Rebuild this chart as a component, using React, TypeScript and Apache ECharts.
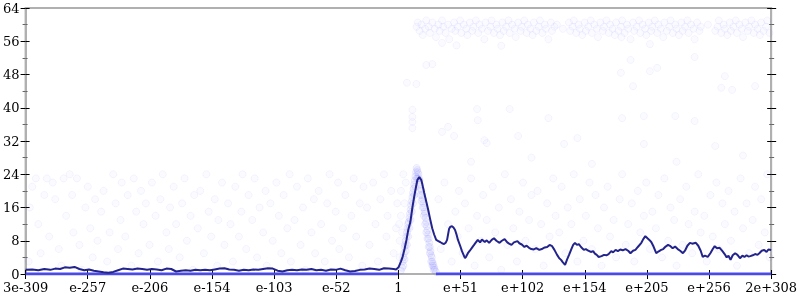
import React, { useEffect, useRef } from "react";
import * as echarts from "echarts";

const xTickLabels = ["3e-309", "e-257", "e-206", "e-154", "e-103", "e-52", "1", "e+51", "e+102", "e+154", "e+205", "e+256", "2e+308"];
const X_MIN = -308.5;
const X_MAX = 308.3;
const X_STEP = 51.4;

// running average line [decimal exponent, value]
const averageLine: number[][] = [
  [-308.5,1.0],[-303,1.1],[-298,0.9],[-293,1.2],[-288,1.0],[-284,1.3],[-280,1.2],[-276,1.6],[-272,1.5],[-268,1.7],[-264,1.2],[-260,0.9],[-256,1.1],[-252,0.8],[-248,0.6],[-244,0.4],[-240,0.3],[-236,0.5],[-232,0.9],[-228,1.3],[-224,1.2],[-220,1.1],[-216,1.3],[-212,1.2],[-208,1.0],[-204,1.2],[-200,1.1],[-196,0.9],[-192,1.3],[-188,1.2],[-184,0.6],[-180,0.8],[-176,0.9],[-172,0.8],[-168,1.0],[-164,0.9],[-160,1.0],[-156,0.9],[-152,1.1],[-148,1.3],[-144,1.4],[-140,1.1],[-136,1.0],[-132,0.8],[-128,1.0],[-124,0.9],[-120,1.1],[-116,1.0],[-112,1.2],[-108,1.4],[-104,1.3],[-100,0.8],[-96,0.6],[-92,0.9],[-88,1.0],[-84,0.9],[-80,1.1],[-76,1.0],[-72,1.2],[-68,0.9],[-64,1.0],[-60,0.8],[-56,1.1],[-52,1.0],[-48,1.3],[-44,0.9],[-40,0.6],[-36,0.7],[-32,1.0],[-28,1.1],[-24,1.3],[-20,1.2],[-16,1.0],[-12,1.4],[-8,1.3],[-4,1.2],[-2,1.1],[0,1.6],
  [2,3],[3.3,4],[5,6],[6.6,8.2],[8,10.5],[9.8,12.5],[11.5,16],[13.1,18.8],[14.5,21],[15.6,22.6],[17.2,23.3],[18.9,22.6],[20,21.2],[21.3,19.5],[23,17.4],[24.6,15.4],[26.2,13.2],[27.9,11],[29.5,9.5],[31.2,8.2],[33,7.9],[34.4,7.7],[36,7.4],[37.7,7.2],[39,7.5],[40.2,8.2],[41.8,10.8],[43,11.4],[44.3,11.5],[45.5,11.2],[46.8,10.6],[48,9.5],[49.2,8.2],[51,6.8],[52.5,5.5],[54,4.5],[55,3.8],[56,4.2],[57.4,5],[59,5.6],[60.7,6.3],[62.5,7],[64,7.6],[65.6,8.2],[67.5,7.6],[69,8.3],[71.4,7.7],[73,8.1],[75,7.5],[77.1,8.2],[79,8.6],[81,8.0],[83.6,7.5],[85.5,8.0],[87.8,8.4],[90,7.6],[91.5,7.3],[93.5,7.0],[95.5,7.6],[98.4,7.9],[100,7.4],[102,7.1],[104.2,6.5],[106,6.8],[108,6.3],[109.9,6.0],[112,5.9],[114,6.2],[116.5,5.8],[118.5,6.0],[121,6.4],[123,6.5],[125,7.0],[127.1,6.7],[129,5.8],[131.2,4.6],[133,3.8],[134.5,3.4],[136,2.8],[137.8,2.2],[139.5,3.5],[141.1,4.6],[143,6.0],[144.5,7.0],[146,7.5],[147.6,7.0],[149.2,7.2],[151,6.5],[153.3,5.8],[155,6.0],[157,5.6],[159.1,5.3],[161,5.5],[162.5,4.9],[164,4.6],[165.6,4.1],[168,4.3],[170,4.6],[172,4.5],[173.8,4.8],[176,5.5],[177.5,5.2],[179.6,5.8],[181.5,5.5],[183.5,5.9],[185.5,5.7],[187.8,6.0],[190,5.6],[191.9,5.0],[194,5.6],[196,5.8],[198,6.5],[200.9,7.5],[202.5,8.4],[204.2,9.1],[206,8.6],[207.5,8.2],[209.1,7.7],[211,6.6],[213.2,5.0],[215,5.4],[217.3,5.8],[219,6.0],[221,6.6],[223,7.0],[225,6.7],[226.8,6.2],[228.8,6.6],[231,6.0],[233,5.6],[235.3,5.0],[237,5.6],[239,6.8],[241.1,7.5],[243,7.3],[246,7.5],[248,6.8],[250,5.6],[251.7,4.1],[253.5,4.4],[255.8,4.1],[258,5.0],[260,6.0],[261.6,6.7],[263.5,6.2],[265.7,6.3],[268,5.5],[269.8,4.8],[271.5,4.0],[273,4.4],[274.7,3.4],[276.5,4.5],[278.5,5.0],[280.4,4.6],[282.5,3.8],[284.5,4.4],[286.2,4.1],[288,4.5],[289.5,4.2],[291.1,4.3],[293,4.5],[295,4.8],[297,4.6],[298.5,5.0],[300.5,5.6],[302.6,5.8],[304.5,5.3],[306,5.9],[308.3,5.8]
];

// exponent ranges where the count sits at zero
const zeroRuns: number[][] = [[-308.5, -0.5], [31, 308.3]];

const leftScatter: number[][] = [
  [-306,3],[-303,21],[-300,23],[-298,12],[-296,5],[-293,19],[-291,23],[-289,9],[-305,16],
  [-286,22],[-284,18],[-281,6],[-279,2],[-277,23],[-275,14],[-272,24],[-270,19],[-269,10],
  [-266,23],[-264,7],[-262,1],[-259,16],[-257,21],[-255,11],[-253,4],[-251,18],[-249,8],
  [-246,15],[-244,20],[-241,3],[-239,10],[-236,24],[-234,17],[-232,6],[-230,13],[-229,22],
  [-226,9],[-224,19],[-221,2],[-219,23],[-217,15],[-215,5],[-213,20],[-211,12],[-209,17],
  [-206,7],[-204,22],[-201,14],[-199,3],[-197,18],[-195,24],[-192,10],[-190,6],[-189,16],
  [-186,21],[-184,12],[-181,4],[-179,17],[-177,23],[-175,8],[-172,14],[-170,1],[-169,19],
  [-166,11],[-164,20],[-161,5],[-159,24],[-157,15],[-155,9],[-152,18],[-150,2],[-149,13],
  [-146,22],[-144,7],[-141,17],[-139,12],[-137,3],[-135,21],[-132,9],[-130,15],[-129,24],
  [-126,6],[-124,19],[-121,13],[-119,23],[-117,4],[-115,16],[-112,10],[-110,20],[-109,2],
  [-106,17],[-104,8],[-101,22],[-99,14],[-97,5],[-95,19],[-92,11],[-90,24],[-89,3],
  [-86,13],[-84,21],[-81,7],[-79,16],[-77,1],[-75,23],[-72,10],[-70,18],[-69,5],
  [-66,20],[-64,12],[-61,3],[-59,17],[-57,24],[-55,8],[-52,15],[-50,22],[-49,6],
  [-46,11],[-44,19],[-41,4],[-39,14],[-37,23],[-35,9],[-32,17],[-30,2],[-29,21],
  [-26,16],[-24,7],[-21,22],[-19,12],[-17,3],[-15,18],[-12,24],[-10,9],[-9,14],
  [-6,20],[-4,5],[-2,11],[-1,17]
];

const peakScatter: number[][] = [
  [2,0.8],[3,1.5],[3.5,3],[4,4],[4.5,5],[5,6.5],[5.5,7],[6,8],[6.5,9],[7,10],[7.5,11],[8,12],[8.5,12.5],[9,13.5],[9.5,14.5],[10,15.5],[10.5,16.5],[11,17.5],[11.5,18.5],[12,19.5],[12.5,20.5],[13,21.5],[13.5,22.5],[14,23.5],[14.5,24.5],[15,25.5],[15.5,25],[16,24.5],
  [4,2],[5,3.5],[6,5.5],[7,7],[8,9],[9,11],[10,13],[11,15],[12,17],[13,19],[14,21],[15,23],[16,23],
  [16.5,24],[17,23],[17.5,22.5],[18,21.5],[18.5,20.5],[19,20],[19.5,19],[20,18],[20.5,17],[21,16],[21.5,15],[22,14.5],[22.5,13.5],[23,12.5],[23.5,11.5],[24,10.5],[24.5,9.5],[25,8.5],[25.5,7.5],[26,6.5],[26.5,5.5],[27,4.5],[27.5,4],[28,3],[28.5,2.5],[29,2],[29.5,1.5],[30,1],[31,0.5],
  [18,19],[19,17.5],[20,16],[21,14],[22,12],[23,10],[24,8.5],[25,6.5],[26,5],[27,3],[28,2],[29,1]
];

const peakHaloScatter: number[][] = [
  [1,8],[2,14],[3,10],[2,20],[5,17],[1,4],[0.5,12],[6,22],[4,24]
];

const rightLowScatter: number[][] = [
  [33,18],[35,6],[38,22],[41,12],[44,3],[47,15],[49,9],[50,20],
  [53,5],[55,17],[58,11],[60,23],[63,2],[65,14],[68,8],[70,19],
  [73,13],[75,4],[78,21],[80,10],[83,16],[85,1],[88,24],[90,7],
  [93,18],[95,11],[98,3],[100,15],[103,22],[105,8],[108,13],[110,19],
  [113,6],[115,20],[118,12],[120,2],[123,17],[125,9],[128,23],[130,14],
  [133,10],[135,21],[138,5],[140,16],[143,12],[145,24],[148,3],[150,18],
  [153,8],[155,14],[158,22],[160,6],[163,19],[165,11],[168,2],[170,16],
  [173,21],[175,9],[178,13],[180,4],[183,18],[185,24],[188,7],[190,12],
  [193,17],[195,3],[198,20],[200,10],[203,14],[205,22],[208,6],[210,15],
  [213,11],[215,19],[218,4],[220,23],[223,8],[225,16],[228,13],[230,2],
  [233,18],[235,7],[238,21],[240,12],[243,5],[245,15],[248,24],[250,10],
  [253,14],[255,3],[258,19],[260,9],[263,22],[265,6],[268,17],[270,12],
  [273,20],[275,8],[278,15],[280,2],[283,23],[285,11],[288,17],[290,5],
  [293,13],[295,21],[298,7],[300,18],[303,10],[305,24],[307,4]
];

const rightMidScatter: number[][] = [
  [7,46],[11.5,39.5],[11.5,37.8],[11.5,36.6],[11.5,35.1],[14.8,45.7],[23,50.3],[28,50.5],[36,55.6],[36,34.2],[41,35.4],[46,33.2],[48,55],[65,39.7],[65.6,37],[71,32.2],[73,31.5],[85,54.9],[92,39.7],[99,33.2],[124,37.5],[137,31.3],[148,32.7],[184.5,57],[184,48.4],[185,37.5],[192,51.5],[194,45.2],[203,38],[203,31.3],[208,55.3],[208,48.8],[214,49.6],[229,38],[245,52.2],[245,36.8],[262,30.8],[267,44.8],[270,47.6],[276,44.3],[295,45.2],
  [60,27],[110,28],[160,26.5],[230,27],[285,28.5]
];

const topBandScatter: number[][] = [
  [15,59.5],[16,60.5],[17.5,58.5],[19,60],[20,57.5],[22,59],[23,61],[25,59.5],[26,58],[28,60.5],[30,59],[31,57],[33,60],[34,58.5],[36,61],[37,59.5],[39,58],[41,60],[42,56.5],[44,59],[46,60.5],[47,58.5],[49,59.5],[51,61],[52,58],[54,60],[56,59],[57,57.5],[59,60.5],[61,58.5],[62,59.5],[64,61],[66,58],[67,60],[69,59],[71,56.5],[72,60.5],[74,58.5],[76,59.5],[77,61],[79,58],[81,60],[82,59],[84,57.5],[86,60.5],[87,58.5],[89,59.5],[91,61],[92,58],[94,60],[96,59],[97,57],[99,60.5],[101,58.5],[102,59.5],[104,61],[106,58],[107,60],[109,59],[111,57.5],[112,60.5],[114,58.5],[116,59.5],[117,61],[119,58],[121,60],[122,59],[124,56.5],[126,60.5],[127,58.5],[129,59.5],[131,60],
  [136,59],
  [141,60.5],[142,58.5],[144,59.5],[145,61],[147,58],[149,60],[150,59],[152,57.5],[154,60.5],[155,58.5],[157,59.5],[159,61],[160,58],[162,60],[164,59],[165,57],[167,60.5],[169,58.5],[170,59.5],[172,61],[174,58],[175,60],[177,59],[179,57.5],[180,60.5],[182,58.5],[184,59.5],[185,61],[187,58],[189,60],[190,59],[192,56.5],[194,60.5],[195,58.5],[197,59.5],[199,61],[200,58],[202,60],[204,59],[205,57.5],[207,60.5],[209,58.5],[210,59.5],[212,61],[214,58],[215,60],[217,59],[219,57],[220,60.5],[222,58.5],[224,59.5],[225,61],[227,58],[229,60],[230,59],[232,57.5],[234,60.5],[235,58.5],[237,59.5],[239,61],[240,58],[242,60],[244,59],[245,56.5],[247,60.5],[249,58.5],[250,59.5],
  [256,60],
  [262,58.5],[264,59.5],[265,61],[267,58],[269,60],[270,59],[272,57.5],[274,60.5],[275,58.5],[277,59.5],[279,61],[280,58],[282,60],[284,59],[285,57],[287,60.5],[289,58.5],[290,59.5],[292,61],[294,58],[295,60],[297,59],[299,57.5],[300,60.5],[302,58.5],[304,59.5],[305,61],[307,58]
];

const FONT = "'DejaVu Serif', serif";

export default function App() {
  const ref = useRef<HTMLDivElement>(null);
  useEffect(() => {
    if (!ref.current) return;
    const chart = echarts.init(ref.current, null, { renderer: "svg" });
    const faint = {
      color: "rgba(110,110,255,0.035)",
      borderColor: "rgba(110,110,255,0.09)",
      borderWidth: 1,
    };
    const trail = {
      color: "rgba(110,110,255,0.09)",
      borderColor: "rgba(110,110,255,0.14)",
      borderWidth: 1,
    };
    const mk = (d: number[][], style: any) => ({
      type: "scatter",
      data: d,
      symbol: "circle",
      symbolSize: 7,
      itemStyle: style,
      silent: true,
      z: 1,
    });
    const scatterSeries = [
      mk(leftScatter, faint),
      mk(peakScatter, trail),
      mk(peakHaloScatter, faint),
      mk(rightLowScatter, faint),
      mk(rightMidScatter, faint),
      mk(topBandScatter, faint),
    ];
    const zeroSeries = zeroRuns.map((r) => ({
      type: "line",
      data: [[r[0], 0], [r[1], 0]],
      symbol: "none",
      lineStyle: { color: "#4a4ae8", width: 3 },
      z: 2,
    }));
    const xLabelFmt = (v: number) => {
      const i = Math.round((v - X_MIN) / X_STEP);
      return xTickLabels[i] ?? "";
    };
    const baseX = {
      type: "value",
      min: X_MIN,
      max: X_MAX,
      interval: X_STEP,
      splitLine: { show: false },
    };
    const baseY = {
      type: "value",
      min: 0,
      max: 64,
      interval: 8,
      splitLine: { show: false },
      minorSplitLine: { show: false },
    };
    chart.setOption({
      animation: false,
      grid: {
        left: 22,
        right: 26,
        top: 8,
        bottom: 26,
        show: true,
        borderColor: "#b0b0b0",
        borderWidth: 2,
        backgroundColor: "transparent",
      },
      xAxis: [
        {
          ...baseX,
          position: "bottom",
          axisLine: { show: true, onZero: false, lineStyle: { color: "#b0b0b0", width: 2 } },
          axisTick: { show: true, length: 5, lineStyle: { color: "#000", width: 1 } },
          axisLabel: { show: true, formatter: xLabelFmt, fontFamily: FONT, fontSize: 13, color: "#000", margin: 7, showMinLabel: true, showMaxLabel: true },
        },
        {
          ...baseX,
          position: "bottom",
          axisLine: { show: false, onZero: false },
          axisTick: { show: true, inside: true, length: 4, lineStyle: { color: "#000", width: 1 } },
          axisLabel: { show: false },
        },
      ],
      yAxis: [
        {
          ...baseY,
          position: "left",
          axisLine: { show: true, onZero: false, lineStyle: { color: "#b0b0b0", width: 2 } },
          axisTick: { show: true, length: 5, lineStyle: { color: "#000", width: 1 } },
          minorTick: { show: true, splitNumber: 2, length: 3, lineStyle: { color: "#666", width: 1 } },
          axisLabel: { show: true, fontFamily: FONT, fontSize: 13, color: "#000", margin: 6 },
        },
        {
          ...baseY,
          position: "left",
          axisLine: { show: false, onZero: false },
          axisTick: { show: true, inside: true, length: 4, lineStyle: { color: "#000", width: 1 } },
          minorTick: { show: true, splitNumber: 2, length: 2, lineStyle: { color: "#666", width: 1 } },
          axisLabel: { show: false },
        },
        {
          ...baseY,
          position: "right",
          axisLine: { show: true, onZero: false, lineStyle: { color: "#b0b0b0", width: 2 } },
          axisTick: { show: true, length: 5, lineStyle: { color: "#000", width: 1 } },
          minorTick: { show: true, splitNumber: 2, length: 3, lineStyle: { color: "#666", width: 1 } },
          axisLabel: { show: false },
        },
        {
          ...baseY,
          position: "right",
          axisLine: { show: false, onZero: false },
          axisTick: { show: true, inside: true, length: 4, lineStyle: { color: "#000", width: 1 } },
          minorTick: { show: true, splitNumber: 2, length: 2, lineStyle: { color: "#666", width: 1 } },
          axisLabel: { show: false },
        },
      ],
      series: [
        ...scatterSeries,
        ...zeroSeries,
        {
          type: "line",
          data: averageLine,
          symbol: "none",
          lineStyle: { color: "#23238c", width: 2 },
          z: 3,
        },
      ],
    });
    return () => chart.dispose();
  }, []);
  return <div ref={ref} style={{ position: "fixed", left: 0, top: 0, width: 800, height: 300 }} />;
}
